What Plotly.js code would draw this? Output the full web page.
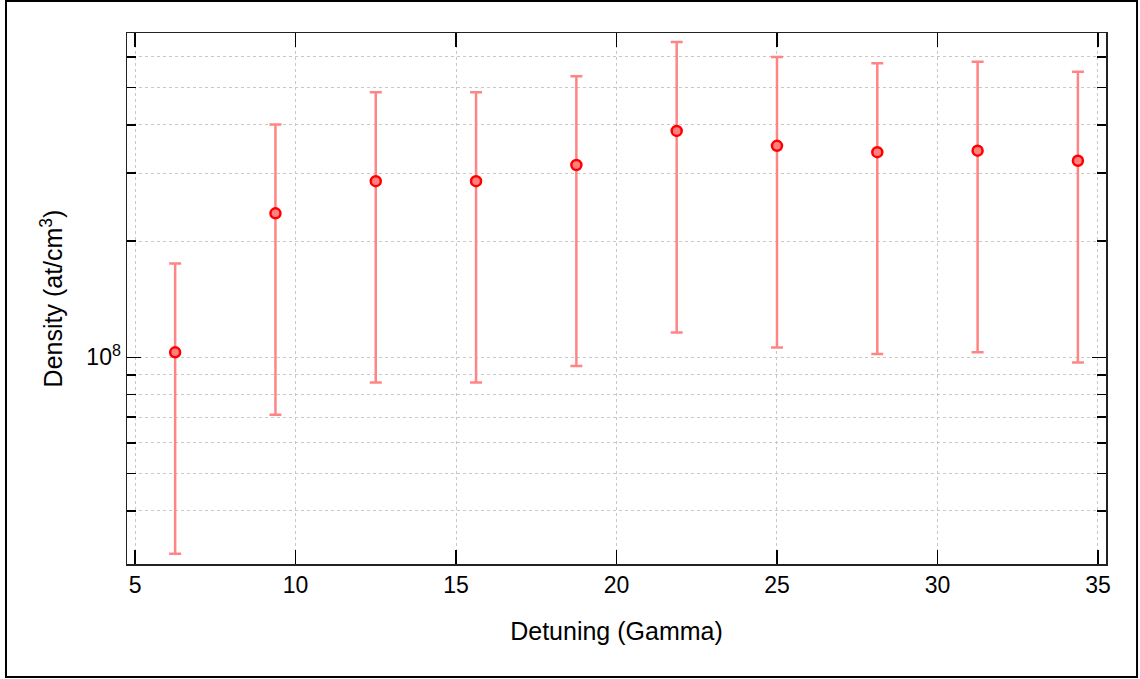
<!DOCTYPE html>
<html>
<head>
<meta charset="utf-8">
<script src="https://cdn.plot.ly/plotly-3.0.1.min.js"></script>
<style>html,body{margin:0;padding:0;background:#fff}#chart{width:1140px;height:679px}</style>
</head>
<body>
<div id="chart"></div>
<script>
const detuning = [6.25, 9.375, 12.5, 15.625, 18.75, 21.875, 25, 28.125, 31.25, 34.375];
const density = [1.03e8, 2.36e8, 2.86e8, 2.86e8, 3.15e8, 3.86e8, 3.53e8, 3.40e8, 3.43e8, 3.23e8];
const densityErr = [0.72e8, 1.65e8, 2.0e8, 2.0e8, 2.2e8, 2.7e8, 2.47e8, 2.38e8, 2.4e8, 2.26e8];
const xTicks = [5, 10, 15, 20, 25, 30, 35];
const yMajor = [1e8];
const yMajorText = ['10<sup>8</sup>'];
const yMinor = [4e7, 5e7, 6e7, 7e7, 8e7, 9e7, 2e8, 3e8, 4e8, 5e8, 6e8];

const font = {family: 'Liberation Sans, Arial, sans-serif', color: '#000'};

const trace = {
  x: detuning,
  y: density,
  type: 'scatter',
  mode: 'markers',
  marker: {size: 10, color: '#ff8080', line: {color: '#ff0000', width: 2.5}},
  error_y: {type: 'data', array: densityErr, visible: true, color: '#ff8585', thickness: 2.5, width: 6},
  showlegend: false,
  hoverinfo: 'x+y'
};

const layout = {
  width: 1140, height: 679,
  margin: {l: 127, r: 34, t: 33, b: 115},
  paper_bgcolor: '#fff', plot_bgcolor: '#fff',
  font: Object.assign({size: 23}, font),
  xaxis: {
    range: [4.75, 35.25],
    tickmode: 'array', tickvals: xTicks,
    ticks: 'inside', ticklen: 14, tickwidth: 1.5, tickcolor: '#000',
    showline: true, linecolor: '#222', linewidth: 1.5, mirror: 'allticks',
    showgrid: true, gridcolor: '#c8c8c8', griddash: 'dot', gridwidth: 1,
    zeroline: false,
    tickfont: Object.assign({size: 23}, font),
    title: {text: 'Detuning (Gamma)', font: Object.assign({size: 25}, font), standoff: 25}
  },
  yaxis: {
    type: 'log',
    range: [7.4645, 8.8402],
    tickmode: 'array', tickvals: yMajor, ticktext: yMajorText,
    ticks: 'inside', ticklen: 14, tickwidth: 1.5, tickcolor: '#000',
    showline: true, linecolor: '#222', linewidth: 1.5, mirror: 'allticks',
    showgrid: true, gridcolor: '#c8c8c8', griddash: 'dot', gridwidth: 1,
    zeroline: false,
    tickfont: Object.assign({size: 23}, font),
    minor: {tickmode: 'array', tickvals: yMinor, ticks: 'inside', ticklen: 9, tickwidth: 1.5, tickcolor: '#000',
            showgrid: true, gridcolor: '#c8c8c8', griddash: 'dot', gridwidth: 1},
    title: {text: 'Density (at/cm<sup>3</sup>)', font: Object.assign({size: 25}, font), standoff: 16}
  },
  shapes: [{
    type: 'rect', xref: 'paper', yref: 'paper', layer: 'above',
    x0: -0.1236, x1: 1.0317, y0: -0.2128, y1: 1.0603,
    line: {color: '#000', width: 2}
  }]
};

Plotly.newPlot('chart', [trace], layout, {displayModeBar: false, staticPlot: true});
</script>
</body>
</html>
